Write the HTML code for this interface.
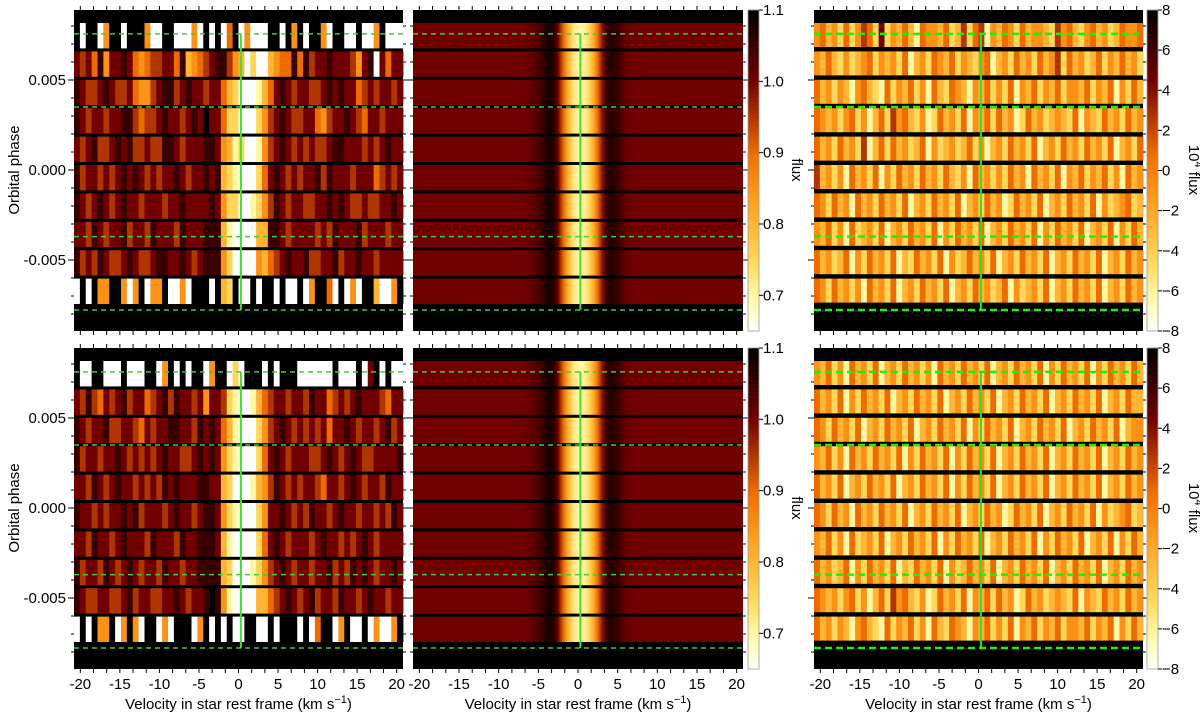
<!DOCTYPE html>
<html><head><meta charset="utf-8">
<style>
html,body{margin:0;padding:0;background:#fff;}
svg{display:block;font-family:"Liberation Sans",sans-serif;}
</style></head>
<body>
<svg id="fig" width="1200" height="716" viewBox="0 0 1200 716" xmlns="http://www.w3.org/2000/svg"></svg>
<script>
// ---- data ----
const velRange = [-20.8, 20.8];
const phaseTicks = [0.005, 0.000, -0.005];
const phaseTickLabels = ["0.005", "0.000", "-0.005"];
const velTicks = [-20, -15, -10, -5, 0, 5, 10, 15, 20];
const fluxTicks = [1.1, 1.0, 0.9, 0.8, 0.7];
const resTicks = [8, 6, 4, 2, 0, -2, -4, -6, -8];
const dashedPhases = [0.00756, 0.0035, -0.0037, -0.00778];
const centerVel = 0.3;
// model line profile (velocity, flux)
const profileV = [-7,-6,-5,-4.5,-4,-3.5,-3,-2.5,-2,-1.5,-1,-0.5,0,0.5,1,1.5,2,2.5,3,3.5,4,4.5,5,5.5,6,7];
const profileF = [1.0,1.01,1.03,1.05,1.07,1.08,1.06,1.0,0.92,0.84,0.77,0.72,0.7,0.7,0.72,0.76,0.82,0.9,0.98,1.04,1.07,1.06,1.05,1.03,1.01,1.0];
// observed flux rows, digit d -> flux 1.1 - 0.05*d
const obsTop = [
"09009500900059900999590909409599900905090059009909950999",
"23241522124543322416543211356979965441413221222352192422",
"12332123324553211321223224679998642123223321212243232232",
"12322322113433212232120224779997532123322453221234223222",
"23213321213323311232221125687998532123232332112223232122",
"13223232121232322123221216789997421232322131222322243232",
"12321232122322232212222125779987531232233221212332332212",
"22312322132231222312221116899996611232222323122213222322",
"13231233212332112212321115799995643212213322132212232222",
"90905500595095509959000906709909009099095004909590069950"];
const obsBot = [
"09900999099900950909009500979000909000999999099909209099",
"23134232132243213122325223789986432232231224323212223422",
"12322133223423221122312124689997532123232324221232232132",
"13223221232323212233212125789997421232223321232123322221",
"22312321223232312122211226799986531232322342232123223122",
"12232322121322232122321125789997522123231223212232232312",
"22312232122231222312211126899997421232223212232321232222",
"13223123212322312232211116799987532123223221323121232212",
"12332233213223322123221015899996643212321322312232122322",
"90905509505900959000950909099009909000909400950990959950"];
// residual rows, digit d -> 8 - 1.78*d
const resTop = [
"54657475347275646845564763743856457465567354675465764554",
"56467576547565748657456475675486574657465374657647564657",
"46575685467847564758467456856475748564756475564756485746",
"45657547586473546758746574856474658746576567485674657465",
"46574657386474657648576576475865746574865746574657486574",
"36575846574857465746574675846575746584657485647564758465",
"45746584657465748657465748657465874657486574657485765476",
"56475847657486574657485746574865746574857465748657485746",
"46576485746574867465748576465748657465748657465748657465",
"45746575846574865746574865746576485765748657465748657465"];
const resBot = [
"56475846574865746575846574657486574657485746574857465746",
"46574857465748657465748657465748657465748657465748657466",
"45746574865746574865746574857465748657465748657465748655",
"56475846574657485746574857465748657465748657465748657465",
"46574865746574865746574857465748657465748657465748657465",
"45746584657465748657465748657465874657486574657485765476",
"56475847657486574657485746574865746574857465748657485746",
"46576485746574867465748576465748657465748657465748657465",
"45657547586473546758746574856474658746576567485674657465",
"46575685467847564758467456856475748564756475564756485746"];

// ---- drawing ----
const NS = "http://www.w3.org/2000/svg";
const svg = document.getElementById("fig");
function el(tag, attrs, parent){
  const e = document.createElementNS(NS, tag);
  for (const k in attrs) e.setAttribute(k, attrs[k]);
  (parent||svg).appendChild(e);
  return e;
}
const stops = [[0,[0,0,0]],[0.22,[112,0,0]],[0.45,[240,110,0]],[0.6,[255,160,30]],[0.78,[255,215,90]],[0.9,[255,250,170]],[1,[255,255,255]]];
function cmap(t){
  t = Math.max(0, Math.min(1, t));
  for (let i=1;i<stops.length;i++){
    if (t <= stops[i][0]){
      const a=stops[i-1], b=stops[i], f=(t-a[0])/(b[0]-a[0]);
      const c=a[1].map((v,j)=>Math.round(v+(b[1][j]-v)*f));
      return "rgb("+c.join(",")+")";
    }
  }
  return "#fff";
}
const fluxColor = f => cmap((1.1-f)/0.45);
const resColor = v => cmap((8-v)/16);

const panelsX = [[74,403],[413,743],[814,1143]];
const rowsY = [10,348];
const PH = 321;

function xScale(px, v){ return px[0] + (v-velRange[0])/(velRange[1]-velRange[0])*(px[1]-px[0]); }
function yScale(T, p){ return T + 160 - p*18000; }

function drawPanel(pi, ri, kind, rows){
  const px = panelsX[pi], T = rowsY[ri], W = px[1]-px[0];
  const g = el("g", {});
  
  
  el("rect",{x:px[0],y:T,width:W,height:PH,fill:"#000"},g);
  const rowH = kind==="res" ? 24 : 25.4;
  for (let k=0;k<10;k++){
    const y0 = T + 13 + k*28.4;
    if (kind==="model"){
      el("rect",{x:px[0],y:y0,width:W,height:rowH,fill:fluxColor(1.0)},g);
      for (let i=0;i<profileV.length-1;i++){
        const xa = xScale(px, profileV[i]), xb = xScale(px, profileV[i+1]);
        const grad = "g"+pi+ri+k+"_"+i;
        const lg = el("linearGradient",{id:grad,x1:"0",x2:"1",y1:"0",y2:"0"},g);
        el("stop",{offset:"0","stop-color":fluxColor(profileF[i])},lg);
        el("stop",{offset:"1","stop-color":fluxColor(profileF[i+1])},lg);
        el("rect",{x:xa,y:y0,width:xb-xa+0.3,height:rowH,fill:"url(#"+grad+")"},g);
      }
    } else {
      const s = rows[k], n = s.length, cw = W/n;
      for (let i=0;i<n;i++){
        const d = +s[i];
        const col = kind==="obs" ? fluxColor(1.1-0.05*d) : resColor(8-1.78*d);
        const c = el("rect",{x:px[0]+i*cw,y:y0,width:cw+0.4,height:rowH,fill:col},g);
        
        
      }
    }
  }
  const thick = kind==="res";
  dashedPhases.forEach(p=>{
    const l = el("line",{x1:px[0],x2:px[1],y1:yScale(T,p),y2:yScale(T,p),stroke:thick?"#22ee00":"#44cc33","stroke-width":thick?2.5:1.5,"stroke-dasharray":thick?"7,4":"5,4"},g);
    
    
  });
  const vx = xScale(px, centerVel);
  const vl = el("line",{x1:vx,x2:vx,y1:yScale(T,dashedPhases[0]),y2:yScale(T,dashedPhases[3]),stroke:thick?"#33dd22":"#44dd33","stroke-width":2},g);
  
  
  for (let v=-20; v<=20.01; v+=5/3){
    const x = xScale(px, v);
    el("line",{x1:x,x2:x,y1:T,y2:T-4,stroke:"#000","stroke-width":1},g);
    el("line",{x1:x,x2:x,y1:T+PH,y2:T+PH+4,stroke:"#000","stroke-width":1},g);
  }
  for (let p=-0.008; p<=0.0081; p+=0.001){
    const y = yScale(T,p);
    const len = Math.abs(Math.round(p*1000))%5===0 ? 6 : 3;
    el("line",{x1:px[0],x2:px[0]-len,y1:y,y2:y,stroke:"#000"},g);
    el("line",{x1:px[1],x2:px[1]+len,y1:y,y2:y,stroke:"#000"},g);
  }
  if (pi===0){
    phaseTicks.forEach((p,i)=>{
      const t = el("text",{x:px[0]-8,y:yScale(T,p)+5,"font-size":15,"text-anchor":"end"},g);
      t.textContent = phaseTickLabels[i];
      
      
    });
    const yl = el("text",{x:19,y:T+160,"font-size":15,"text-anchor":"middle",transform:"rotate(-90 19 "+(T+160)+")"},g);
    yl.textContent = "Orbital phase";
    
    
  }
  if (ri===1){
    velTicks.forEach(v=>{
      const t = el("text",{x:xScale(px,v),y:689,"font-size":15,"text-anchor":"middle"},g);
      t.textContent = String(v);
      
      
    });
    const xt = el("text",{x:(px[0]+px[1])/2,y:709,"font-size":15,"text-anchor":"middle"},g);
    xt.innerHTML = 'Velocity in star rest frame (km s<tspan dy="-6" font-size="11">−1</tspan><tspan dy="6">)</tspan>';
    
    
  }
}

function drawColorbar(x, T, kind){
  const g = el("g",{});
  
  
  const N = 80, h = PH/N;
  for (let i=0;i<N;i++){
    const t = (i+0.5)/N;
    el("rect",{x:x,y:T+i*h,width:11,height:h+0.3,fill:cmap(t)},g);
  }
  el("rect",{x:x,y:T,width:11,height:PH,fill:"none",stroke:"#999","stroke-width":0.8},g);
  const ticks = kind==="flux" ? fluxTicks : resTicks;
  ticks.forEach(v=>{
    const y = kind==="flux" ? T + (1.1-v)/0.45*PH : T + (8-v)/16*PH;
    el("line",{x1:x+11,x2:x+15,y1:y,y2:y,stroke:"#000"},g);
    const t = el("text",{x:x+15,y:y+5,"font-size":15},g);
    t.textContent = kind==="flux" ? v.toFixed(1) : (v<0 ? "−"+(-v) : String(v));
    
    
  });
  const lx = kind==="flux" ? x+44 : x+42, ly = T+160;
  const lab = el("text",{x:lx,y:ly,"font-size":15,"text-anchor":"middle",transform:"rotate(90 "+lx+" "+ly+")"},g);
  if (kind==="flux") lab.textContent = "flux";
  else lab.innerHTML = '10<tspan dy="-6" font-size="11">4</tspan><tspan dy="6"> flux</tspan>';
  
  
}

[0,1].forEach(ri=>{
  drawPanel(0, ri, "obs", ri===0?obsTop:obsBot);
  drawPanel(1, ri, "model", null);
  drawPanel(2, ri, "res", ri===0?resTop:resBot);
  drawColorbar(748, rowsY[ri], "flux");
  drawColorbar(1147, rowsY[ri], "res");
});
</script>
</body></html>
